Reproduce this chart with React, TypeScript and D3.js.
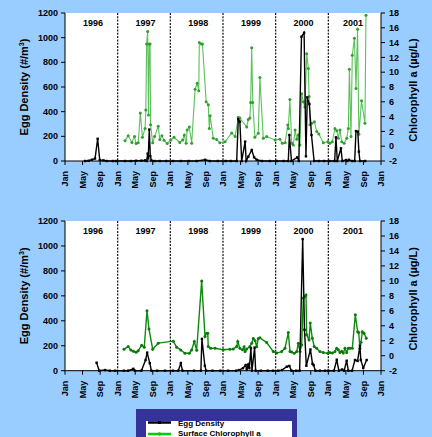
import React from 'react';
import * as d3 from 'd3';

// decimal year, egg density (#/m3)
const topEgg: [number, number][] = [
  [1996.38, 0], [1996.45, 2], [1996.51, 10], [1996.57, 20], [1996.62, 180], [1996.66, 8], [1996.73, 5], [1996.79, 0], [1996.91, 0], [1996.97, 0],
  [1997.14, 0], [1997.25, 0], [1997.35, 2], [1997.45, 3], [1997.52, 5], [1997.55, 0], [1997.57, 60], [1997.58, 20], [1997.6, 255], [1997.62, 40], [1997.64, 5], [1997.7, 0], [1997.8, 0], [1997.92, 0],
  [1998.05, 0], [1998.2, 0], [1998.35, 0], [1998.5, 0], [1998.66, 10], [1998.75, 0], [1998.9, 0],
  [1999.05, 0], [1999.15, 0], [1999.26, 0], [1999.29, 338], [1999.32, 319], [1999.355, 0], [1999.42, 157], [1999.44, 0], [1999.48, 35], [1999.545, 89], [1999.59, 30], [1999.64, 10], [1999.74, 0], [1999.89, 0],
  [2000.02, 0], [2000.15, 0], [2000.24, 0], [2000.26, 211], [2000.3, 0], [2000.41, 30], [2000.44, 0], [2000.49, 1008], [2000.54, 1040], [2000.575, 38], [2000.6, 516], [2000.64, 462], [2000.68, 211], [2000.73, 0], [2000.82, 0], [2000.92, 0],
  [2001.02, 0], [2001.12, 0], [2001.145, 192], [2001.17, 0], [2001.24, 103], [2001.265, 0], [2001.335, 8], [2001.36, 0], [2001.39, 10], [2001.45, 0], [2001.5, 0], [2001.525, 243], [2001.56, 238], [2001.58, 76], [2001.6, 0], [2001.7, 0],
];

// decimal year, chlorophyll a (ug/L)
const topChl: [number, number][] = [
  [1997.14, 0.75], [1997.2, 1.4], [1997.27, 0.5], [1997.32, 1.3], [1997.35, 0.35], [1997.39, 0.45], [1997.43, 4.5], [1997.47, 1.2], [1997.52, 2.4], [1997.535, 4.9], [1997.55, 13.8], [1997.57, 15.5], [1997.585, 4.2], [1997.6, 13.8], [1997.615, 13.8], [1997.625, 2.9], [1997.665, 0.45], [1997.7, 1.3], [1997.77, 2.7], [1997.8, 0.9], [1997.84, 1.4], [1997.88, 0.8], [1997.94, 0.35],
  [1998.01, 0.85], [1998.07, 1.2], [1998.18, 0.5], [1998.235, 0.85], [1998.265, 1.5], [1998.3, 0.4], [1998.32, 2.2], [1998.36, 2.6], [1998.405, 0.4], [1998.47, 7.7], [1998.51, 8.5], [1998.54, 7.5], [1998.55, 14.0], [1998.59, 13.8], [1998.61, 13.8], [1998.68, 6.0], [1998.72, 5.6], [1998.74, 2.4], [1998.755, 4.1], [1998.815, 1.07], [1998.88, 0.9], [1998.94, 0.47],
  [1999.04, 0.6], [1999.165, 1.8], [1999.23, 1.3], [1999.29, 3.9], [1999.32, 3.8], [1999.45, 2.6], [1999.48, 3.6], [1999.51, 3.8], [1999.525, 5.9], [1999.545, 13.3], [1999.565, 5.9], [1999.605, 1.2], [1999.67, 1.75], [1999.7, 9.3], [1999.765, 1.07], [1999.83, 1.3], [1999.99, 0.85],
  [2000.08, 0.93], [2000.125, 0.4], [2000.18, 0.47], [2000.23, 2.86], [2000.24, 2.4], [2000.27, 6.3], [2000.305, 0.4], [2000.335, 0.16], [2000.37, 2.2], [2000.4, 0.93], [2000.43, 1.5], [2000.46, 0.16], [2000.495, 7.1], [2000.525, 6.0], [2000.555, 5.3], [2000.59, 12.5], [2000.62, 10.5], [2000.635, 6.7], [2000.65, 2.9], [2000.685, 3.1], [2000.735, 3.3], [2000.78, 2.0], [2000.82, 1.65], [2000.905, 0.47], [2000.99, 0.6],
  [2001.03, 0.4], [2001.075, 0.6], [2001.125, 2.4], [2001.16, 2.1], [2001.19, 1.07], [2001.22, 2.2], [2001.255, 0.6], [2001.3, 0.4], [2001.35, 1.07], [2001.38, 2.4], [2001.4, 10.4], [2001.43, 1.3], [2001.455, 12.3], [2001.495, 14.6], [2001.525, 7.8], [2001.555, 15.8], [2001.58, 1.6], [2001.63, 6.15], [2001.695, 3.1], [2001.715, 17.7],
];

const bottomEgg: [number, number][] = [
  [1996.6, 64], [1996.65, 0], [1996.76, 5], [1996.85, 0], [1996.95, 0],
  [1997.12, 0], [1997.2, 0], [1997.297, 15], [1997.33, 0], [1997.45, 0], [1997.53, 86], [1997.56, 145], [1997.61, 60], [1997.64, 0], [1997.75, 0], [1997.9, 0],
  [1998.05, 0], [1998.15, 0], [1998.2, 60], [1998.23, 0], [1998.45, 0], [1998.58, 0], [1998.6, 255], [1998.655, 40], [1998.68, 0], [1998.8, 0], [1998.95, 0],
  [1999.1, 0], [1999.25, 0], [1999.3, 5], [1999.38, 20], [1999.43, 45], [1999.45, 10], [1999.48, 50], [1999.5, 20], [1999.53, 180], [1999.55, 0], [1999.6, 185], [1999.62, 0], [1999.72, 0], [1999.85, 0], [1999.95, 0],
  [2000.05, 0], [2000.12, 5], [2000.21, 32], [2000.26, 38], [2000.3, 0], [2000.39, 0], [2000.455, 0], [2000.513, 1055], [2000.547, 328], [2000.582, 40], [2000.66, 170], [2000.7, 55], [2000.72, 45], [2000.755, 0], [2000.84, 0], [2000.94, 0],
  [2001.0, 0], [2001.107, 0], [2001.16, 88], [2001.2, 0], [2001.26, 10], [2001.3, 0], [2001.348, 80], [2001.38, 0], [2001.45, 0], [2001.506, 86], [2001.555, 78], [2001.6, 200], [2001.616, 86], [2001.663, 22], [2001.728, 86],
];

const bottomChl: [number, number][] = [
  [1997.12, 0.87], [1997.2, 1.22], [1997.25, 0.78], [1997.3, 0.6], [1997.35, 0.47], [1997.39, 0.68], [1997.455, 1.4], [1997.505, 1.14], [1997.557, 6.0], [1997.595, 3.56], [1997.665, 0.87], [1997.77, 1.68],
  [1998.056, 1.95], [1998.12, 1.14], [1998.197, 0.78], [1998.278, 0.33], [1998.36, 0.33], [1998.405, 0.78], [1998.455, 1.9], [1998.5, 0.74], [1998.595, 10.0], [1998.658, 2.57], [1998.69, 3.0], [1998.71, 3.0], [1998.72, 1.22], [1998.766, 1.0], [1998.85, 1.0],
  [1999.005, 0.8], [1999.13, 0.87], [1999.195, 0.9], [1999.26, 1.22], [1999.28, 1.9], [1999.32, 1.0], [1999.37, 0.8], [1999.4, 1.2], [1999.42, 0.55], [1999.45, 0.9], [1999.51, 1.22], [1999.545, 1.68], [1999.575, 2.3], [1999.61, 2.0], [1999.64, 1.2], [1999.67, 2.3], [1999.7, 2.4], [1999.83, 1.76], [1999.955, 0.55],
  [2000.02, 0.35], [2000.114, 0.55], [2000.177, 1.0], [2000.24, 3.1], [2000.272, 0.55], [2000.304, 0.5], [2000.354, 0.33], [2000.4, 0.55], [2000.43, 1.68], [2000.462, 0.55], [2000.494, 1.45], [2000.525, 7.7], [2000.557, 7.9], [2000.576, 8.1], [2000.589, 2.8], [2000.633, 2.1], [2000.657, 4.36], [2000.695, 2.35], [2000.733, 1.22], [2000.779, 1.0], [2000.84, 0.55], [2000.904, 0.42], [2000.99, 0.33],
  [2001.03, 0.42], [2001.075, 0.35], [2001.126, 0.55], [2001.158, 1.0], [2001.19, 0.8], [2001.221, 0.42], [2001.253, 0.6], [2001.284, 0.35], [2001.316, 1.0], [2001.348, 0.42], [2001.379, 1.0], [2001.41, 1.0], [2001.455, 1.0], [2001.512, 5.47], [2001.557, 3.2], [2001.576, 3.1], [2001.6, 1.0], [2001.62, 1.8], [2001.645, 3.2], [2001.677, 3.0], [2001.72, 2.35],
];

const years = [1996, 1997, 1998, 1999, 2000, 2001];
const monthLabels = ['Jan', 'May', 'Sep'];
const eggTicks = [0, 200, 400, 600, 800, 1000, 1200];
const chlTicks = [-2, 0, 2, 4, 6, 8, 10, 12, 14, 16, 18];
const legendLabels = ['Egg Density', 'Surface Chlorophyll a'];

const FONT = "Arial, 'Liberation Sans', sans-serif";
const BG = '#99ccff';

const x = d3.scaleLinear().domain([1996, 2002]).range([65, 381]);

const monthTicks = years
  .flatMap(y => monthLabels.map((m, i) => ({ v: y + (i * 4) / 12, label: m })))
  .concat([{ v: 2002, label: 'Jan' }]);

function Panel({ top, bottom, egg, chl, chlLine, chlDot, chlWidth }: any) {
  const yEgg = d3.scaleLinear().domain([0, 1200]).range([bottom, top]);
  const yChl = d3.scaleLinear().domain([-2, 18]).range([bottom, top]);
  const eggLine = d3.line<[number, number]>().x(d => x(d[0])).y(d => yEgg(d[1]));
  const chlPath = d3.line<[number, number]>().x(d => x(d[0])).y(d => yChl(d[1]));
  const mid = (top + bottom) / 2;
  const [x0, x1] = x.range();

  return (
    <g fontFamily={FONT} fontWeight="bold">
      <rect x={x0} y={top} width={x1 - x0} height={bottom - top} fill="#fff" />
      {years.slice(1).map(y => (
        <line key={y} x1={x(y)} x2={x(y)} y1={top} y2={bottom} stroke="#111" strokeWidth={1.2} strokeDasharray="2,1.3" />
      ))}
      {years.map(y => (
        <text key={y} x={x(y + (y === 2001 ? 0.47 : 0.53))} y={top + 13} fontSize={9} textAnchor="middle" fill="#000">{y}</text>
      ))}
      <path d={chlPath(chl) || ''} fill="none" stroke={chlLine} strokeWidth={chlWidth} />
      {chl.map((d: [number, number], i: number) => (
        <circle key={i} cx={x(d[0])} cy={yChl(d[1])} r={1.5} fill={chlDot} />
      ))}
      <path d={eggLine(egg) || ''} fill="none" stroke="#000" strokeWidth={1.4} />
      {egg.map((d: [number, number], i: number) => (
        <rect key={i} x={x(d[0]) - 1.2} y={yEgg(d[1]) - 1.2} width={2.4} height={2.4} fill="#000" />
      ))}
      {/* axes */}
      <line x1={x0} x2={x0} y1={top} y2={bottom} stroke="#000" strokeWidth={1} />
      <line x1={x1} x2={x1} y1={top} y2={bottom} stroke="#000" strokeWidth={1} />
      <line x1={x0} x2={x1} y1={bottom} y2={bottom} stroke="#000" strokeWidth={1} />
      {eggTicks.map(t => (
        <g key={t}>
          <line x1={x0 - 4} x2={x0} y1={yEgg(t)} y2={yEgg(t)} stroke="#000" />
          <text x={x0 - 7} y={yEgg(t)} dy="0.35em" fontSize={9} textAnchor="end">{t}</text>
        </g>
      ))}
      {chlTicks.map(t => (
        <g key={t}>
          <line x1={x1} x2={x1 + 4} y1={yChl(t)} y2={yChl(t)} stroke="#000" />
          <text x={x1 + 8} y={yChl(t)} dy="0.35em" fontSize={9} textAnchor="start">{t}</text>
        </g>
      ))}
      {monthTicks.map((t, i) => (
        <g key={i}>
          <line x1={x(t.v)} x2={x(t.v)} y1={bottom} y2={bottom + 4} stroke="#000" />
          <text transform={`translate(${x(t.v)},${bottom + 10}) rotate(-90)`} dy="0.35em" fontSize={9} textAnchor="end">{t.label}</text>
        </g>
      ))}
      <text transform={`translate(24,${mid}) rotate(-90)`} fontSize={11} textAnchor="middle" dy="0.35em">
        Egg Density (#/m<tspan dy="-4" fontSize={7}>3</tspan><tspan dy="4">)</tspan>
      </text>
      <text transform={`translate(413,${mid + 3}) rotate(-90)`} fontSize={11} textAnchor="middle" dy="0.35em">
        Chlorophyll a (µg/L)
      </text>
    </g>
  );
}

export default function App() {
  return (
    <>
      <style>{`body{margin:0;background:${BG};}`}</style>
      <svg width={432} height={437} style={{ display: 'block', background: BG }}>
        <Panel top={13} bottom={161} egg={topEgg} chl={topChl} chlLine="#5cc05c" chlDot="#2f9f2f" chlWidth={1.1} />
        <Panel top={221} bottom={370.7} egg={bottomEgg} chl={bottomChl} chlLine="#0d8a0d" chlDot="#0a7a0a" chlWidth={1.4} />
        {/* legend */}
        <g fontFamily={FONT} fontWeight="bold" fontSize={8}>
          <rect x={136} y={409} width={161} height={30} fill="#333399" />
          <rect x={146} y={421} width={146} height={18} fill="#fff" />
          <line x1={148} x2={171} y1={422.5} y2={422.5} stroke="#000" strokeWidth={2.5} />
          <rect x={158} y={421} width={3} height={3} fill="#000" />
          <line x1={148} x2={171} y1={434} y2={434} stroke="#00cc00" strokeWidth={2.5} />
          <circle cx={159.5} cy={434} r={1.8} fill="#00cc00" />
          <text x={178} y={425.5} fill="#000">{legendLabels[0]}</text>
          <text x={178} y={435.5} fill="#000">{legendLabels[1]}</text>
        </g>
      </svg>
    </>
  );
}
